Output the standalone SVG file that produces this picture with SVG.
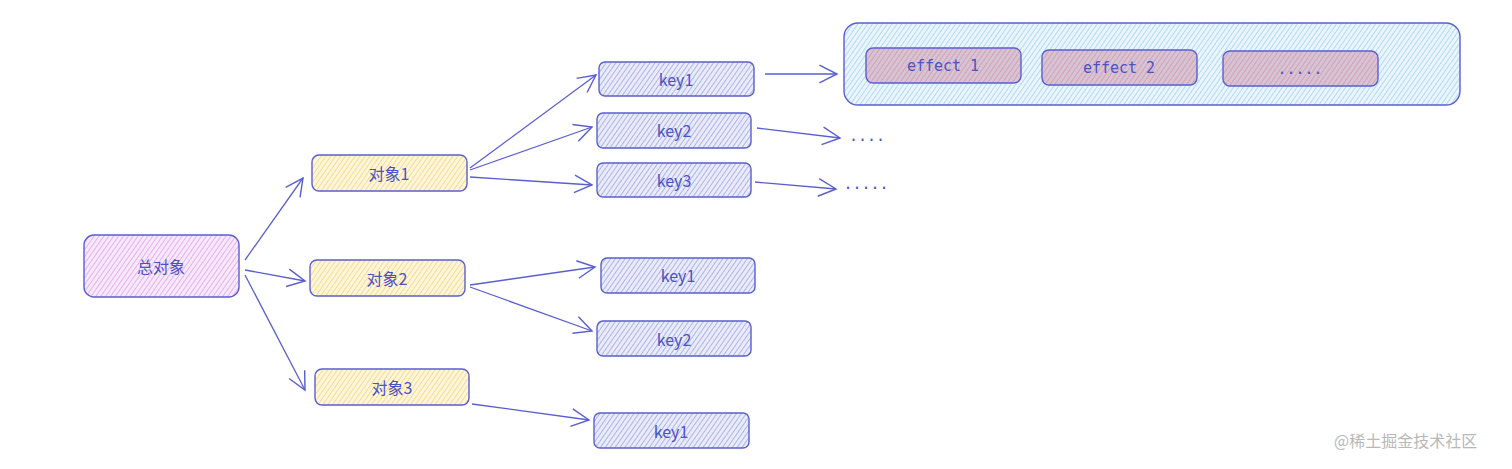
<svg xmlns="http://www.w3.org/2000/svg" width="1512" height="469" viewBox="0 0 1512 469">
<style>
.box{stroke:#5a5fd0;stroke-width:1.4}
.t{font-family:"Noto Sans CJK SC","Noto Sans",sans-serif;font-size:16px;fill:#4b52c4;text-anchor:middle;dominant-baseline:central}
.m{font-family:"DejaVu Sans Mono","Liberation Mono",monospace;font-size:15px;fill:#4b52c4;text-anchor:middle;dominant-baseline:central}
.c{fill:none;stroke:#5a5fd0;stroke-width:1.3}
.wm{font-family:"Noto Sans CJK SC",sans-serif;font-size:16px;fill:#b8b8b8}
</style>
<defs>
<pattern id="hp" width="4" height="4" patternUnits="userSpaceOnUse" patternTransform="rotate(35)"><rect width="4" height="4" fill="#f8e8fb"/><line x1="0" y1="0" x2="0" y2="4" stroke="#d48de2" stroke-width="1.2"/></pattern>
<pattern id="hy" width="4" height="4" patternUnits="userSpaceOnUse" patternTransform="rotate(35)"><rect width="4" height="4" fill="#fff6dc"/><line x1="0" y1="0" x2="0" y2="4" stroke="#f0c95a" stroke-width="1.2"/></pattern>
<pattern id="hk" width="4" height="4" patternUnits="userSpaceOnUse" patternTransform="rotate(35)"><rect width="4" height="4" fill="#e9ebfa"/><line x1="0" y1="0" x2="0" y2="4" stroke="#7f86d8" stroke-width="1.1"/></pattern>
<pattern id="hb" width="4" height="4" patternUnits="userSpaceOnUse" patternTransform="rotate(35)"><rect width="4" height="4" fill="#eaf5fd"/><line x1="0" y1="0" x2="0" y2="4" stroke="#86c2ea" stroke-width="1.1"/></pattern>
<pattern id="hr" width="4" height="4" patternUnits="userSpaceOnUse" patternTransform="rotate(35)"><rect width="4" height="4" fill="#d5c4d6"/><line x1="0" y1="0" x2="0" y2="4" stroke="#d98797" stroke-width="1.2"/></pattern>
<marker id="a" viewBox="0 0 20 20" refX="18" refY="10" markerWidth="22" markerHeight="22" markerUnits="userSpaceOnUse" orient="auto"><path d="M2 2 L18 10 L2 18" fill="none" stroke="#5a5fd0" stroke-width="1.3"/></marker>
</defs>

<g id="connectors">
<path class="c" d="M245 260 L303 178" marker-end="url(#a)"/>
<path class="c" d="M245 270 L305 281" marker-end="url(#a)"/>
<path class="c" d="M245 275 L305 390" marker-end="url(#a)"/>
<path class="c" d="M470 168 L596 75" marker-end="url(#a)"/>
<path class="c" d="M470 170 L592 127" marker-end="url(#a)"/>
<path class="c" d="M470 177 L592 185" marker-end="url(#a)"/>
<path class="c" d="M470 285 L595 267" marker-end="url(#a)"/>
<path class="c" d="M470 287 L592 331" marker-end="url(#a)"/>
<path class="c" d="M472 404 L589 420" marker-end="url(#a)"/>
<path class="c" d="M765 74 L837 74" marker-end="url(#a)"/>
<path class="c" d="M757 128 L840 138" marker-end="url(#a)"/>
<path class="c" d="M755 182 L836 189" marker-end="url(#a)"/>
</g>

<g id="root"><rect class="box" x="84" y="235" width="155" height="62" rx="10" fill="url(#hp)"/><text class="t" x="161" y="266">总对象</text></g>
<g id="obj1"><rect class="box" x="312" y="155" width="155" height="36" rx="7" fill="url(#hy)"/><text class="t" x="389" y="173">对象1</text></g>
<g id="obj2"><rect class="box" x="310" y="260" width="155" height="36" rx="7" fill="url(#hy)"/><text class="t" x="387" y="278">对象2</text></g>
<g id="obj3"><rect class="box" x="315" y="369" width="154" height="36" rx="7" fill="url(#hy)"/><text class="t" x="392" y="387">对象3</text></g>

<g id="o1key1"><rect class="box" x="599" y="62" width="155" height="34" rx="6" fill="url(#hk)"/><text class="t" x="676" y="79">key1</text></g>
<g id="o1key2"><rect class="box" x="597" y="113" width="154" height="35" rx="6" fill="url(#hk)"/><text class="t" x="674" y="130">key2</text></g>
<g id="o1key3"><rect class="box" x="597" y="163" width="154" height="34" rx="6" fill="url(#hk)"/><text class="t" x="674" y="180">key3</text></g>
<g id="o2key1"><rect class="box" x="601" y="258" width="154" height="35" rx="6" fill="url(#hk)"/><text class="t" x="678" y="275">key1</text></g>
<g id="o2key2"><rect class="box" x="597" y="321" width="154" height="35" rx="6" fill="url(#hk)"/><text class="t" x="674" y="339">key2</text></g>
<g id="o3key1"><rect class="box" x="594" y="413" width="155" height="35" rx="6" fill="url(#hk)"/><text class="t" x="671" y="431">key1</text></g>

<g id="effects"><rect class="box" x="844" y="23" width="616" height="82" rx="14" fill="url(#hb)"/></g>
<g id="effect1"><rect class="box" x="866" y="48" width="155" height="35" rx="7" fill="url(#hr)"/><text class="m" x="943" y="66">effect 1</text></g>
<g id="effect2"><rect class="box" x="1042" y="50" width="155" height="35" rx="7" fill="url(#hr)"/><text class="m" x="1119" y="68">effect 2</text></g>
<g id="effect3"><rect class="box" x="1223" y="51" width="155" height="35" rx="7" fill="url(#hr)"/><text class="m" x="1300" y="69">.....</text></g>

<g id="more2"><text class="m" x="867" y="136">....</text></g>
<g id="more3"><text class="m" x="866" y="184">.....</text></g>

<text class="wm" x="1334" y="447">@稀土掘金技术社区</text>
</svg>
